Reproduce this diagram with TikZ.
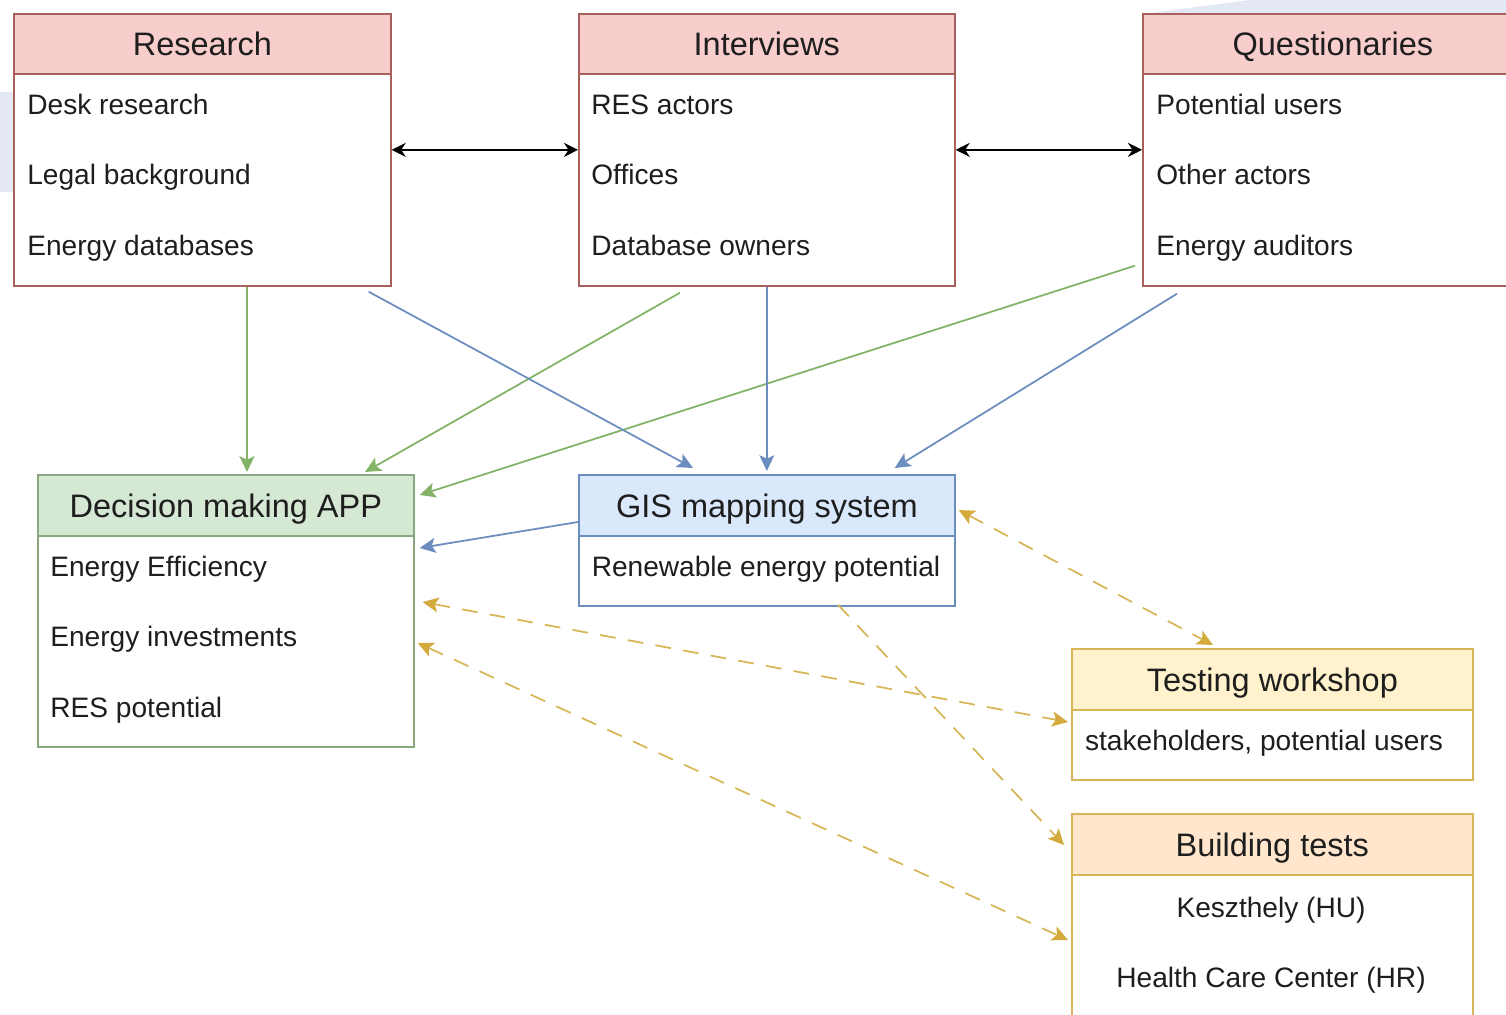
\documentclass[tikz,border=0pt]{standalone}
\usepackage{fontspec}
\setmainfont{Liberation Sans}
\usetikzlibrary{arrows.meta,positioning,calc}
\definecolor{redfill}{HTML}{F8CECC}
\definecolor{redline}{HTML}{A8605C}
\definecolor{grnfill}{HTML}{D5E8D4}
\definecolor{grnline}{HTML}{82B366}
\definecolor{boxgrn}{HTML}{8AA880}
\definecolor{blufill}{HTML}{DAE8FC}
\definecolor{bluline}{HTML}{6C8EBF}
\definecolor{yelfill}{HTML}{FFF2CC}
\definecolor{orafill}{HTML}{FFE6CC}
\definecolor{yelline}{HTML}{D6B656}
\definecolor{goldarr}{HTML}{D4AA3C}
\definecolor{txt}{HTML}{1E1E1E}
\definecolor{bgblue}{HTML}{E4E7F4}
\tikzset{
  panel/.style={draw=#1, fill=white, anchor=north west, inner sep=0pt, line width=1pt},
  head/.style={draw=#1, anchor=north west, inner sep=0pt, line width=1pt,
    text depth=0pt, font=\fontsize{18.5}{22}\selectfont, text=txt},
  item/.style={anchor=west, inner sep=0pt, text height=0.72em, text depth=0.22em,
    font=\fontsize{16}{19}\selectfont, text=txt},
  citem/.style={item, anchor=center},
  link/.style={line width=1pt, -{Stealth[length=9pt,width=8.5pt,inset=2pt]}},
  dlink/.style={line width=1.2pt, {Stealth[length=8pt,width=8pt]}-{Stealth[length=8pt,width=8pt]}},
  glink/.style={link, draw=grnline, fill=grnline},
  blink/.style={link, draw=bluline, fill=bluline},
  ylink/.style={line width=1pt, draw=yelline, dash pattern=on 9pt off 7pt,
    -{Stealth[length=9pt,width=8.5pt,inset=2pt,color=goldarr]}},
  yylink/.style={ylink,
    {Stealth[length=9pt,width=8.5pt,inset=2pt,color=goldarr]}-{Stealth[length=9pt,width=8.5pt,inset=2pt,color=goldarr]}}
}
\begin{document}
\begin{tikzpicture}[x=0.02cm,y=-0.02cm]
\useasboundingbox (0,0) rectangle (1506,1014);
\fill[bgblue] (0,92) rectangle (13,192);
\fill[bgblue] (1150,13) -- (1250,0) -- (1506,0) -- (1506,13) -- cycle;

% survey sources
\node[panel=redline, minimum width=7.54cm, minimum height=5.44cm] (res) at (13,13) {};
\node[head=redline, fill=redfill, minimum width=7.54cm, minimum height=1.2cm] (resh) at (res.north west) {Research};
\foreach \t [count=\i] in {Desk research, Legal background, Energy databases}
  \node[item] (res\i) at (27,{110+70.5*(\i-1)}) {\t};

\node[panel=redline, minimum width=7.52cm, minimum height=5.44cm] (int) at (578,13) {};
\node[head=redline, fill=redfill, minimum width=7.52cm, minimum height=1.2cm] (inth) at (int.north west) {Interviews};
\foreach \t [count=\i] in {RES actors, Offices, Database owners}
  \node[item] (int\i) at (591,{110+70.5*(\i-1)}) {\t};

\node[panel=redline, minimum width=7.6cm, minimum height=5.44cm] (que) at (1142,13) {};
\node[head=redline, fill=redfill, minimum width=7.6cm, minimum height=1.2cm] (queh) at (que.north west) {Questionaries};
\foreach \t [count=\i] in {Potential users, Other actors, Energy auditors}
  \node[item] (que\i) at (1156,{110+70.5*(\i-1)}) {\t};

% tools
\node[panel=boxgrn, minimum width=7.52cm, minimum height=5.44cm] (dec) at (37,474) {};
\node[head=boxgrn, fill=grnfill, minimum width=7.52cm, minimum height=1.22cm] (dech) at (dec.north west) {Decision making APP};
\foreach \t [count=\i] in {Energy Efficiency, Energy investments, RES potential}
  \node[item] (dec\i) at (50,{572+70.5*(\i-1)}) {\t};

\node[panel=bluline, minimum width=7.52cm, minimum height=2.62cm] (gis) at (578,474) {};
\node[head=bluline, fill=blufill, minimum width=7.52cm, minimum height=1.22cm] (gish) at (gis.north west) {GIS mapping system};
\node[citem] (gis1) at (766,572) {Renewable energy potential};

% tests
\node[panel=yelline, minimum width=8.02cm, minimum height=2.62cm] (tst) at (1071,648) {};
\node[head=yelline, fill=yelfill, minimum width=8.02cm, minimum height=1.22cm] (tsth) at (tst.north west) {Testing workshop};
\node[citem] (tst1) at (1264,746) {stakeholders, potential users};

\node[panel=yelline, minimum width=8.02cm, minimum height=4.3cm] (bld) at (1071,813) {};
\node[head=yelline, fill=orafill, minimum width=8.02cm, minimum height=1.22cm] (bldh) at (bld.north west) {Building tests};
\node[citem] (bld1) at (1271,913) {Keszthely (HU)};
\node[citem] (bld2) at (1271,983) {Health Care Center (HR)};

% connectors
\draw[dlink] (res.east) -- (int.west);
\draw[dlink] (int.east) -- (que.west);

\draw[glink] ($(res.south west)+(234,0)$) -- ($(dec.north west)+(210,-2)$);
\draw[glink] ($(int.south west)+(102,6)$) -- ($(dec.north west)+(328,-2)$);
\draw[glink] ($(que.south west)+(-7,-21)$) -- ($(dec.north east)+(5,21)$);

\draw[blink] ($(res.south east)+(-23,5)$) -- ($(gis.north west)+(115,-6)$);
\draw[blink] (int.south) -- ($(gis.north)+(0,-3)$);
\draw[blink] ($(que.south west)+(35,7)$) -- ($(gis.north east)+(-61,-6)$);
\draw[blink] ($(gis.north west)+(0,48)$) -- ($(dec.north east)+(5,74)$);

\draw[yylink] ($(gis.north east)+(3,36)$) -- ($(tst.north west)+(142,-3)$);
\draw[yylink] ($(dec.north east)+(8,128)$) -- ($(tst.north west)+(-3,74)$);
\draw[ylink] ($(gis.south west)+(260,-2)$) -- ($(bld.north west)+(-7,32)$);
\draw[yylink] ($(dec.north east)+(3,169)$) -- ($(bld.north west)+(-3,127)$);
\end{tikzpicture}
\end{document}
